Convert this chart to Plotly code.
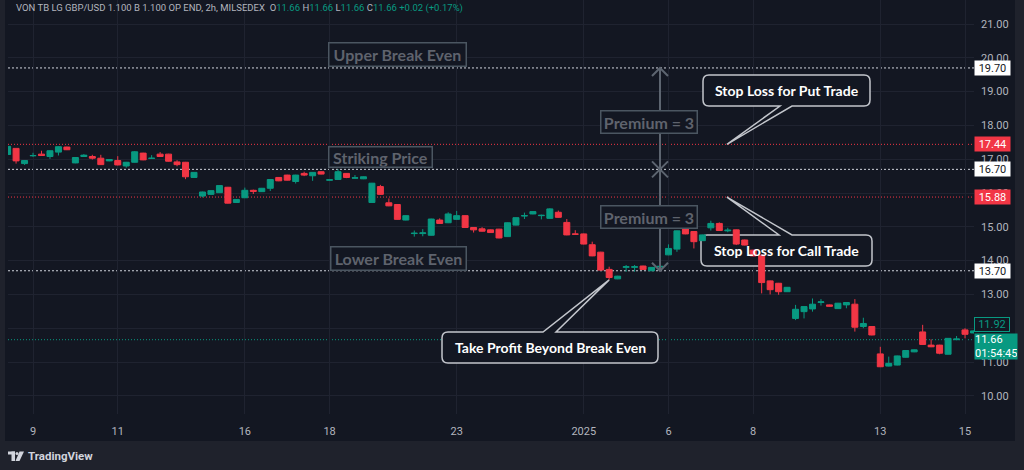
import plotly.graph_objects as go

# ---------------- data (2h candles) ----------------
opens = [17.14, 17.32, 16.87, 17.10, 17.15, 17.08, 17.21, 17.36, 16.89, 17.08,
         17.08, 17.03, 16.95, 16.96, 16.80, 16.91, 17.18, 17.02, 17.15, 17.15,
         16.92, 16.91, 16.46, 15.91, 15.96, 16.01, 16.17, 15.72, 15.86, 16.08,
         16.04, 16.14, 16.46, 16.53, 16.34, 16.58, 16.51, 16.63, 16.38, 16.40,
         16.58, 16.44, 16.42, 15.72, 16.19, 15.71, 15.66, 15.20, 14.80, 14.80,
         14.75, 15.20, 15.12, 15.22, 15.33, 14.98, 14.94, 14.91, 14.93, 14.71,
         15.05, 15.32, 15.38, 15.33, 15.25, 15.43, 15.13, 14.79, 14.79, 14.47,
         14.25, 13.74, 13.46, 13.80, 13.80, 13.84, 13.70, 13.81, 14.17, 14.34,
         14.97, 14.86, 14.59, 14.97, 15.10, 14.88, 14.91, 14.61, 14.31, 14.16,
         13.40, 13.33, 13.08, 12.29, 12.49, 12.57, 12.76, 12.69, 12.58, 12.69,
         12.71, 12.05, 12.05, 11.24, 10.88, 10.91, 11.14, 11.30, 11.89, 11.50,
         11.50, 11.23, 11.66, 11.95, 11.86]
highs = [17.40, 17.33, 16.97, 17.19, 17.25, 17.26, 17.38, 17.37, 17.06, 17.15,
         17.13, 17.13, 17.00, 17.09, 16.92, 17.24, 17.19, 17.12, 17.21, 17.16,
         16.97, 16.92, 16.62, 16.04, 16.08, 16.23, 16.18, 15.82, 16.16, 16.10,
         16.15, 16.41, 16.47, 16.54, 16.54, 16.63, 16.62, 16.64, 16.40, 16.70,
         16.59, 16.53, 16.49, 16.30, 16.24, 15.84, 15.67, 15.34, 14.89, 14.93,
         15.24, 15.25, 15.43, 15.47, 15.34, 14.99, 14.99, 14.92, 14.94, 15.13,
         15.28, 15.42, 15.46, 15.36, 15.55, 15.48, 15.23, 14.90, 14.80, 14.56,
         14.26, 13.82, 13.55, 13.87, 13.87, 13.85, 13.81, 13.90, 14.48, 14.89,
         15.00, 14.87, 14.77, 15.18, 15.13, 14.97, 14.92, 14.62, 14.32, 14.17,
         13.41, 13.34, 13.22, 12.69, 12.65, 12.88, 12.86, 12.70, 12.75, 12.77,
         12.86, 12.31, 12.06, 11.45, 11.16, 11.19, 11.35, 11.37, 12.10, 11.67,
         11.51, 11.71, 11.77, 12.00, 11.93]
lows = [17.12, 16.87, 16.83, 17.07, 17.10, 17.01, 17.11, 17.27, 16.88, 17.07,
        16.99, 16.83, 16.94, 16.82, 16.75, 16.90, 16.97, 17.01, 17.07, 16.93,
        16.79, 16.41, 16.45, 15.87, 15.95, 16.00, 15.69, 15.71, 15.85, 15.97,
        16.03, 16.06, 16.35, 16.37, 16.28, 16.50, 16.36, 16.55, 16.37, 16.39,
        16.44, 16.43, 16.41, 15.71, 15.95, 15.61, 15.21, 15.19, 14.71, 14.72,
        14.74, 15.09, 15.11, 15.21, 14.97, 14.83, 14.86, 14.82, 14.66, 14.70,
        15.04, 15.23, 15.37, 15.22, 15.24, 15.27, 14.75, 14.78, 14.48, 14.13,
        13.71, 13.43, 13.45, 13.67, 13.67, 13.73, 13.69, 13.74, 14.16, 14.26,
        14.78, 14.36, 14.58, 14.89, 14.88, 14.84, 14.46, 14.45, 14.13, 13.03,
        13.00, 12.99, 13.07, 12.24, 12.29, 12.49, 12.67, 12.64, 12.57, 12.59,
        11.90, 12.00, 11.79, 10.85, 10.87, 10.90, 11.13, 11.29, 11.51, 11.44,
        11.23, 11.22, 11.65, 11.70, 11.85]
closes = [17.38, 16.95, 16.96, 17.11, 17.11, 17.25, 17.37, 17.28, 17.05, 17.12,
          17.03, 16.84, 16.99, 16.83, 16.91, 17.22, 16.98, 17.03, 17.08, 16.94,
          16.84, 16.48, 16.61, 16.03, 16.07, 16.22, 15.70, 15.81, 16.08, 16.05,
          16.14, 16.40, 16.36, 16.38, 16.53, 16.53, 16.61, 16.56, 16.39, 16.63,
          16.46, 16.45, 16.48, 16.29, 15.96, 15.62, 15.22, 15.33, 14.81, 14.82,
          15.23, 15.10, 15.38, 15.33, 14.98, 14.91, 14.87, 14.83, 14.67, 15.12,
          15.27, 15.33, 15.45, 15.34, 15.53, 15.28, 14.76, 14.78, 14.49, 14.14,
          13.72, 13.50, 13.54, 13.82, 13.82, 13.74, 13.80, 13.83, 14.36, 14.88,
          14.79, 14.56, 14.76, 15.10, 14.89, 14.90, 14.49, 14.46, 14.14, 13.35,
          13.14, 13.08, 13.21, 12.56, 12.64, 12.71, 12.78, 12.65, 12.74, 12.76,
          12.03, 12.14, 11.80, 10.86, 10.96, 11.18, 11.34, 11.36, 11.52, 11.45,
          11.26, 11.70, 11.68, 11.82, 11.92]
bar_index = list(range(len(opens)))

date_tick_index = [3, 13, 28, 38, 53, 68, 78, 88, 103, 113]
date_tick_label = ["9", "11", "16", "18", "23", "2025", "6", "8", "13", "15"]

price_ticks = list(range(10, 22))
hidden_price_ticks = [12]   # fully covered by the 11.92 label in the original
upper_break_even = 19.70
strike_price = 16.70
lower_break_even = 13.70
stop_put = 17.44
stop_call = 15.88
last_price = 11.66
prev_price = 11.92
premium_bar = 77          # bar where the premium arrows are drawn
stop_tip_bar = 84.9
take_profit_bar = 71
take_profit_price = 13.43

# ---------------- styling ----------------
BG = "#131722"
OUTER = "#1f222c"
GRID = "#1f2330"
TXT = "#b2b5be"
GREEN = "#089981"
RED = "#f23645"
WHITE = "#d1d4dc"
GREY_TXT = "#5f636d"
GREY_BOX = "#4b5661"
ARROW = "#5d6570"

W, H = 1024, 470
ML, MR, MT, MB = 8, 50, 0, 56
PW, PH = W - ML - MR, H - MT - MB
XR = [0.047, 114.06]
YR = [9.462, 21.71]


def X(px):
    return XR[0] + (px - ML) / PW * (XR[1] - XR[0])


def Y(py):
    return YR[1] - (py - MT) / PH * (YR[1] - YR[0])


def PX(px):
    return (px - ML) / PW


def PY(py):
    return (MT + PH - py) / PH


def DX(px):
    return px * (XR[1] - XR[0]) / PW


def DY(px):
    return px * (YR[1] - YR[0]) / PH


fig = go.Figure()
fig.add_trace(go.Candlestick(
    x=bar_index, open=opens, high=highs, low=lows, close=closes,
    increasing=dict(line=dict(color=GREEN, width=1), fillcolor=GREEN),
    decreasing=dict(line=dict(color=RED, width=1), fillcolor=RED),
    whiskerwidth=0, showlegend=False, hoverinfo="skip",
))

shapes = []
annotations = []

# chart frame (inner dark area)
shapes.append(dict(type="rect", xref="paper", yref="paper", layer="below",
                   x0=PX(5), x1=PX(1015), y0=PY(441), y1=PY(-2),
                   fillcolor=BG, line=dict(width=0)))

# price levels
for lv in (upper_break_even, strike_price, lower_break_even):
    shapes.append(dict(type="line", xref="paper", yref="y", x0=0, x1=1, y0=lv, y1=lv,
                       layer="between", line=dict(color=WHITE, width=1, dash="2px,2px")))
for lv in (stop_put, stop_call):
    shapes.append(dict(type="line", xref="paper", yref="y", x0=0, x1=1, y0=lv, y1=lv,
                       layer="between", line=dict(color=RED, width=1, dash="1px,2px")))
shapes.append(dict(type="line", xref="paper", yref="y", x0=0, x1=1, y0=last_price, y1=last_price,
                   layer="between", line=dict(color=GREEN, width=1, dash="1px,2px")))

# premium arrows
shapes.append(dict(type="line", xref="x", yref="y", x0=premium_bar, x1=premium_bar,
                   y0=upper_break_even, y1=lower_break_even, line=dict(color=ARROW, width=2)))
ah_x, ah_y = DX(8), DY(8)
b = premium_bar
heads = [
    (upper_break_even, -1), (lower_break_even, 1),
    (strike_price, 1), (strike_price, -1),
]
for lv, sgn in heads:
    shapes.append(dict(type="path", xref="x", yref="y",
                       path=f"M{b - ah_x},{lv + sgn * ah_y} L{b},{lv} L{b + ah_x},{lv + sgn * ah_y}",
                       line=dict(color=ARROW, width=2)))


# callout bubbles
def bubble(x0, y0, x1, y1, bx1, bx2, tip, tail, r=6):
    def P(px, py):
        return f"{X(px):.4f},{Y(py):.4f}"
    t = f"{tip[0]},{tip[1]}"
    if tail == "top":
        return (f"M{P(x0 + r, y0)} L{P(bx1, y0)} L{t} L{P(bx2, y0)} L{P(x1 - r, y0)} "
                f"Q{P(x1, y0)} {P(x1, y0 + r)} L{P(x1, y1 - r)} Q{P(x1, y1)} {P(x1 - r, y1)} "
                f"L{P(x0 + r, y1)} Q{P(x0, y1)} {P(x0, y1 - r)} L{P(x0, y0 + r)} "
                f"Q{P(x0, y0)} {P(x0 + r, y0)} Z")
    return (f"M{P(x0 + r, y0)} L{P(x1 - r, y0)} Q{P(x1, y0)} {P(x1, y0 + r)} "
            f"L{P(x1, y1 - r)} Q{P(x1, y1)} {P(x1 - r, y1)} L{P(bx2, y1)} L{t} "
            f"L{P(bx1, y1)} L{P(x0 + r, y1)} Q{P(x0, y1)} {P(x0, y1 - r)} "
            f"L{P(x0, y0 + r)} Q{P(x0, y0)} {P(x0 + r, y0)} Z")


callouts = [
    ("Stop Loss for Put Trade", (703, 75, 870, 106), (780, 792), (stop_tip_bar, stop_put), "bottom"),
    ("Stop Loss for Call Trade", (701, 235, 872, 266), (779, 792), (stop_tip_bar, stop_call), "top"),
    ("Take Profit Beyond Break Even", (442, 332, 658, 363), (543, 556),
     (take_profit_bar, take_profit_price), "top"),
]
for text, (x0, y0, x1, y1), (bx1, bx2), tip, tail in callouts:
    shapes.append(dict(type="path", xref="x", yref="y", layer="between",
                       path=bubble(x0, y0, x1, y1, bx1, bx2, tip, tail),
                       fillcolor=BG, line=dict(color="#c3c6cc", width=1.5)))
    annotations.append(dict(x=X((x0 + x1) / 2), y=Y((y0 + y1) / 2), xref="x", yref="y",
                            text=text, showarrow=False, xanchor="center", yanchor="middle",
                            font=dict(family="Lato", size=14, color="#ffffff", weight="bold")))

# grey labels
labels = [
    ("Upper Break Even", 397, 54, 136, 22),
    ("Striking Price", 380, 157, 102, 19),
    ("Lower Break Even", 398, 258, 134, 22),
    ("Premium = 3", 648.5, 121.5, 95, 21),
    ("Premium = 3", 648.5, 217, 95, 21),
]
for text, cx, cy, w, h in labels:
    annotations.append(dict(x=X(cx), y=Y(cy), xref="x", yref="y", text=text, showarrow=False,
                            xanchor="center", yanchor="middle", width=w, height=h,
                            bgcolor=BG, bordercolor=GREY_BOX, borderwidth=1.5, borderpad=0,
                            font=dict(family="Lato", size=16, color=GREY_TXT, weight="bold")))

# price-axis boxes
axis_boxes = [
    (upper_break_even, "#ffffff", "#131722"),
    (strike_price, "#ffffff", "#131722"),
    (lower_break_even, "#ffffff", "#131722"),
    (stop_put, RED, "#ffffff"),
    (stop_call, RED, "#ffffff"),
]
for lv, bgc, fc in axis_boxes:
    annotations.append(dict(x=1, y=lv, xref="paper", yref="y", text=f"{lv:.2f}", showarrow=False,
                            xanchor="left", yanchor="middle", width=35, height=14, borderpad=0,
                            bgcolor=bgc, font=dict(family="Roboto", size=11, color=fc)))
annotations.append(dict(x=1, y=prev_price, xref="paper", yref="y", text=f"{prev_price:.2f}",
                        showarrow=False, xanchor="left", yanchor="bottom", yshift=-1,
                        width=34, height=13, borderpad=0, bgcolor=BG,
                        bordercolor=GREEN, borderwidth=1,
                        font=dict(family="Roboto", size=11, color=GREEN)))
annotations.append(dict(x=1, y=last_price, xref="paper", yref="y",
                        text=f"{last_price:.2f}<br>01:54:45", showarrow=False,
                        xanchor="left", yanchor="top", yshift=7, width=42, height=25,
                        borderpad=0, bgcolor=GREEN, align="left",
                        font=dict(family="Roboto", size=11, color="#ffffff")))

# header
hdr = ("VON TB LG GBP/USD 1.100 B 1.100 OP END, 2h, MILSEDEX  "
       f"O<span style='color:{GREEN}'>{last_price:.2f}</span> "
       f"H<span style='color:{GREEN}'>{last_price:.2f}</span> "
       f"L<span style='color:{GREEN}'>{last_price:.2f}</span> "
       f"C<span style='color:{GREEN}'>{last_price:.2f} +0.02 (+0.17%)</span>")
annotations.append(dict(x=PX(14), y=PY(8), xref="paper", yref="paper", text=hdr, showarrow=False,
                        xanchor="left", yanchor="middle",
                        font=dict(family="Roboto", size=9.5, color=TXT)))

# footer logo
annotations.append(dict(x=PX(26), y=PY(456), xref="paper", yref="paper", text="TradingView",
                        showarrow=False, xanchor="left", yanchor="middle",
                        font=dict(family="Roboto", size=11.5, color=WHITE, weight="bold")))
logo = [
    dict(type="rect", x0=PX(8), x1=PX(15), y0=PY(454.5), y1=PY(451.5)),
    dict(type="rect", x0=PX(11.5), x1=PX(15), y0=PY(461), y1=PY(451.5)),
    dict(type="circle", x0=PX(15.5), x1=PX(18.5), y0=PY(455), y1=PY(452)),
    dict(type="path", path=f"M{PX(19.5)},{PY(451.5)} L{PX(24)},{PY(451.5)} L{PX(19.5)},{PY(461)} "
                            f"L{PX(15.5)},{PY(461)} Z"),
]
for s in logo:
    s.update(xref="paper", yref="paper", fillcolor=WHITE, line=dict(width=0))
    shapes.append(s)

fig.update_layout(
    width=W, height=H, template="none",
    margin=dict(l=ML, r=MR, t=MT, b=MB, pad=0),
    paper_bgcolor=OUTER, plot_bgcolor=BG,
    showlegend=False, boxgap=0.16, boxgroupgap=0.16,
    shapes=shapes, annotations=annotations,
    xaxis=dict(range=XR, tickmode="array", tickvals=date_tick_index, ticktext=date_tick_label,
               showgrid=True, gridcolor=GRID, gridwidth=1, zeroline=False, showline=False,
               ticks="", ticklabelstandoff=9, rangeslider=dict(visible=False),
               tickfont=dict(family="Roboto", size=11, color=TXT), fixedrange=True),
    yaxis=dict(range=YR, side="right", tickmode="array", tickvals=price_ticks,
               ticktext=["" if v in hidden_price_ticks else f"{v:.2f}" for v in price_ticks],
               showgrid=True, gridcolor=GRID, gridwidth=1, zeroline=False, showline=False,
               ticks="", ticklabelstandoff=6,
               tickfont=dict(family="Roboto", size=11, color=TXT), fixedrange=True),
)

fig.write_html("out.html")
